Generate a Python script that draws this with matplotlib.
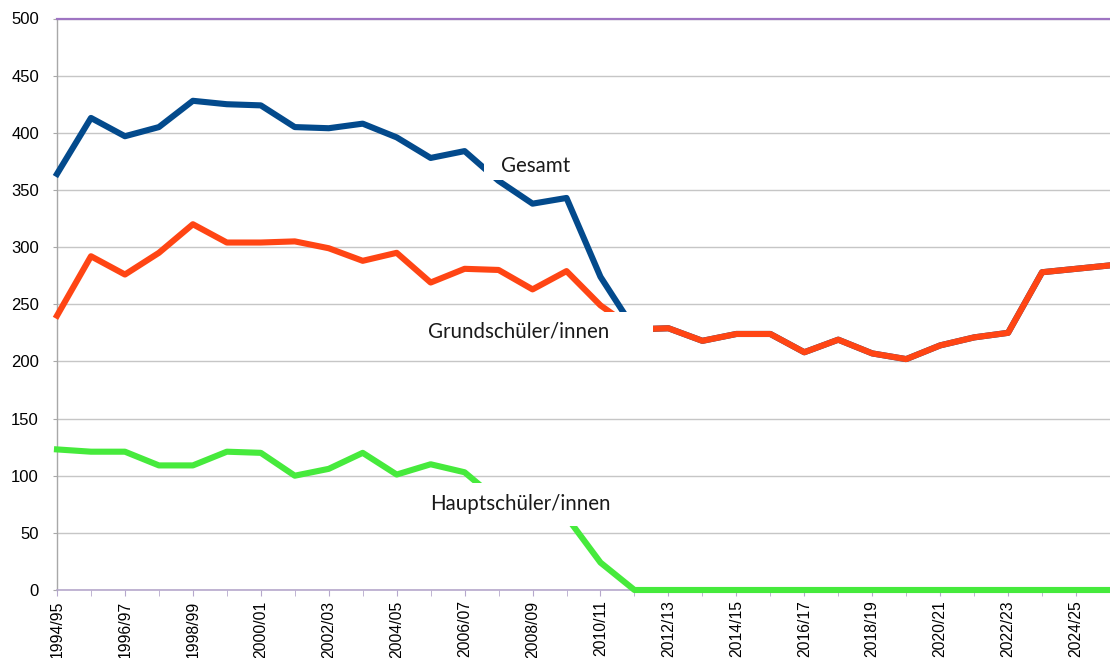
import matplotlib
matplotlib.use("Agg")
import matplotlib.pyplot as plt
from matplotlib.path import Path
import numpy as np

years = [
    "1994/95", "1995/96", "1996/97", "1997/98", "1998/99", "1999/00", "2000/01", "2001/02",
    "2002/03", "2003/04", "2004/05", "2005/06", "2006/07", "2007/08", "2008/09", "2009/10",
    "2010/11", "2011/12", "2012/13", "2013/14", "2014/15", "2015/16", "2016/17", "2017/18",
    "2018/19", "2019/20", "2020/21", "2021/22", "2022/23", "2023/24", "2024/25", "2025/26",
]
gesamt = [364, 413, 397, 405, 428, 425, 424, 405, 404, 408, 396, 378, 384, 358, 338, 343,
          274, 228, 229, 218, 224, 224, 208, 219, 207, 202, 214, 221, 225, 278, 281, 284]
grund = [240, 292, 276, 295, 320, 304, 304, 305, 299, 288, 295, 269, 281, 280, 263, 279,
         249, 228, 229, 218, 224, 224, 208, 219, 207, 202, 214, 221, 225, 278, 281, 284]
haupt = [123, 121, 121, 109, 109, 121, 120, 100, 106, 120, 101, 110, 103, 78, 75, 64,
         24, 0, 0, 0, 0, 0, 0, 0, 0, 0, 0, 0, 0, 0, 0, 0]

# label text, anchor (category index, value), box pads (left, right, bottom, top) in font-size units
labels = [
    ("Gesamt", 14.1, 371, (0.85, 0.85, 0.22, 0.6)),
    ("Grundschüler/innen", 13.6, 226, (0.95, 2.1, 0.42, 0.45)),
    ("Hauptschüler/innen", 13.65, 75, (0.95, 0.95, 0.55, 0.55)),
]


def make_box(pl, pr, pb, pt):
    def box(x0, y0, width, height, mutation_size):
        xa = x0 - pl * mutation_size
        xb = x0 + width + pr * mutation_size
        ya = y0 - pb * mutation_size
        yb = y0 + height + pt * mutation_size
        return Path([(xa, ya), (xb, ya), (xb, yb), (xa, yb), (xa, ya)], closed=True)
    return box


x = np.arange(len(years))

fig = plt.figure(figsize=(11.1, 6.58), dpi=100)
ax = fig.add_axes([57 / 1110, 1 - 590 / 658, 1 - 57 / 1110, (590 - 18.5) / 658])

lw = 4.4
ax.plot(x, gesamt, color="#034a8c", linewidth=lw, solid_joinstyle="round", clip_on=False, zorder=3)
ax.plot(x, grund, color="#ff4514", linewidth=lw, solid_joinstyle="round", clip_on=False, zorder=4)
ax.plot(x, haupt, color="#46ea3c", linewidth=lw, solid_joinstyle="round", clip_on=False, zorder=5)

for text, lx, ly, pads in labels:
    ax.text(lx, ly, text, ha="center", va="center", fontsize=14.8, family="Lato",
            color="#1a1a1a", zorder=6,
            bbox=dict(boxstyle=make_box(*pads), fc="white", ec="none"))

ax.set_xlim(0, 30.88)
ax.set_ylim(0, 500)
ax.set_yticks(np.arange(0, 501, 50))
ax.yaxis.grid(True, color="#c6c6c6", linewidth=1.0)
ax.set_axisbelow(True)

ax.set_xticks(x[::2])
ax.set_xticklabels(years[::2], rotation=90, family="Liberation Sans", fontsize=11.3)
ax.set_xticks(x, minor=True)
ax.tick_params(axis="x", which="both", direction="out", length=4, color="#b6a8cc", pad=3.5)
ax.tick_params(axis="y", direction="out", length=3, color="#a8a8a8", pad=10,
               labelsize=12)
for lab in ax.get_yticklabels():
    lab.set_family("Liberation Sans")

ax.spines["right"].set_visible(False)
ax.spines["top"].set_color("#9e74c2")
ax.spines["top"].set_linewidth(1.6)
ax.spines["bottom"].set_color("#b6a8cc")
ax.spines["bottom"].set_linewidth(1.2)
ax.spines["left"].set_color("#a8a8a8")
ax.spines["left"].set_linewidth(1.0)

fig.savefig("out.png", dpi=100)
